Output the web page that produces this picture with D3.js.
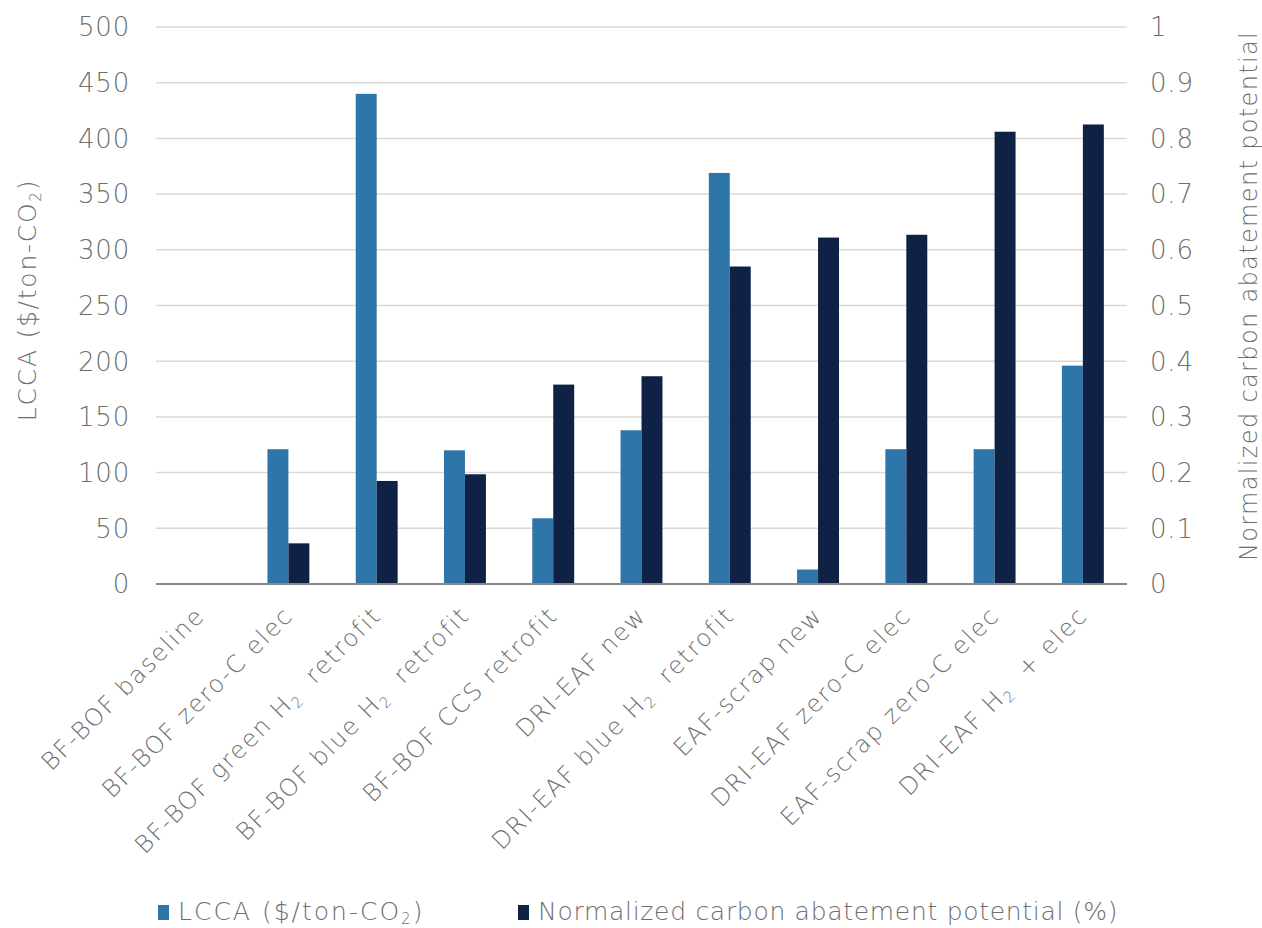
<!DOCTYPE html>
<html>
<head>
<meta charset="utf-8">
<script src="https://cdn.jsdelivr.net/npm/d3@7"></script>
<style>
  html, body { margin: 0; padding: 0; background: #fff; }
  svg { display: block; }
  text { font-family: "DejaVu Sans", "Open Sans", sans-serif; font-weight: 200; fill: #6e6e6e; }
</style>
</head>
<body>
<svg id="chart" width="1262" height="928"></svg>
<script>
// ---------- data ----------
const categories = [
  ["BF-BOF baseline"],
  ["BF-BOF zero-C elec"],
  ["BF-BOF green H", "2", "  retrofit"],
  ["BF-BOF blue H", "2", "  retrofit"],
  ["BF-BOF CCS retrofit"],
  ["DRI-EAF new"],
  ["DRI-EAF blue H", "2", "  retrofit"],
  ["EAF-scrap new"],
  ["DRI-EAF zero-C elec"],
  ["EAF-scrap zero-C elec"],
  ["DRI-EAF H", "2", "  + elec"]
];
const lccaValues = [0, 121, 440, 120, 59, 138, 369, 13, 121, 121, 196];
const abatementValues = [0, 0.073, 0.185, 0.197, 0.358, 0.373, 0.570, 0.622, 0.627, 0.812, 0.825];
const leftTicks = [0, 50, 100, 150, 200, 250, 300, 350, 400, 450, 500];
const rightTicks = [0, 0.1, 0.2, 0.3, 0.4, 0.5, 0.6, 0.7, 0.8, 0.9, 1];
const seriesNames = ["lcca", "abatement"];
const seriesColors = ["#2e75a9", "#0f2246"];

// ---------- layout ----------
const svg = d3.select("#chart");
const plot = { left: 156, right: 1127, top: 27, bottom: 584 };

const x = d3.scaleBand()
  .domain(d3.range(categories.length))
  .range([plot.left, plot.right])
  .paddingInner(0.525)
  .paddingOuter(0.2625);
const xInner = d3.scaleBand().domain(seriesNames).range([0, x.bandwidth()]);
const yLeft = d3.scaleLinear().domain([0, 500]).range([plot.bottom, plot.top]);
const yRight = d3.scaleLinear().domain([0, 1]).range([plot.bottom, plot.top]);

// gridlines
svg.append("g").selectAll("line").data(leftTicks.slice(1)).join("line")
  .attr("x1", plot.left).attr("x2", plot.right)
  .attr("y1", d => yLeft(d)).attr("y2", d => yLeft(d))
  .attr("stroke", "#d9d9d9").attr("stroke-width", 1.5);

// bars
const data = categories.map((c, i) => ({ i, lcca: lccaValues[i], abatement: abatementValues[i] }));
const g = svg.append("g");
g.selectAll("rect.lcca").data(data).join("rect").attr("class", "lcca")
  .attr("x", d => x(d.i) + xInner("lcca"))
  .attr("width", xInner.bandwidth())
  .attr("y", d => yLeft(d.lcca))
  .attr("height", d => yLeft(0) - yLeft(d.lcca))
  .attr("fill", seriesColors[0]);
g.selectAll("rect.ab").data(data).join("rect").attr("class", "ab")
  .attr("x", d => x(d.i) + xInner("abatement"))
  .attr("width", xInner.bandwidth())
  .attr("y", d => yRight(d.abatement))
  .attr("height", d => yRight(0) - yRight(d.abatement))
  .attr("fill", seriesColors[1]);

// baseline axis
svg.append("line")
  .attr("x1", plot.left).attr("x2", plot.right)
  .attr("y1", plot.bottom).attr("y2", plot.bottom)
  .attr("stroke", "#888").attr("stroke-width", 2);

// left axis
const leftAxis = d3.axisLeft(yLeft).tickValues(leftTicks).tickSize(0).tickPadding(26).tickFormat(d3.format("d"));
const la = svg.append("g").attr("transform", `translate(${plot.left},0)`).call(leftAxis);
la.select(".domain").remove();
la.selectAll("text").style("font-size", "26px").style("letter-spacing", "0.8px")
  .attr("fill", "#6e6e6e").attr("dy", "0.34em");

// right axis
const rightAxis = d3.axisRight(yRight).tickValues(rightTicks).tickSize(0).tickPadding(23)
  .tickFormat(d => d === 0 ? "0" : d === 1 ? "1" : d3.format(".1f")(d));
const ra = svg.append("g").attr("transform", `translate(${plot.right},0)`).call(rightAxis);
ra.select(".domain").remove();
ra.selectAll("text").style("font-size", "26px").style("letter-spacing", "0.8px")
  .attr("fill", "#6e6e6e").attr("dy", "0.34em");

// x labels
const xl = svg.append("g");
data.forEach((d, i) => {
  const cx = x(i) + x.bandwidth() / 2;
  const t = xl.append("text")
    .attr("transform", `translate(${cx + 6},${plot.bottom + 33}) rotate(-45)`)
    .attr("text-anchor", "end")
    .style("font-size", "24px").style("letter-spacing", "1.7px");
  const parts = categories[i];
  t.append("tspan").text(parts[0]);
  if (parts.length > 1) {
    t.append("tspan").attr("baseline-shift", "-5px").style("font-size", "15px").text(parts[1]);
    t.append("tspan").attr("baseline-shift", "0").text(parts[2]).style("white-space", "pre");
  }
});

// left title
const lt = svg.append("text")
  .attr("transform", `translate(36,300) rotate(-90)`)
  .attr("text-anchor", "middle").style("font-size", "25px").style("letter-spacing", "1.75px");
lt.append("tspan").text("LCCA ($/ton-CO");
lt.append("tspan").attr("baseline-shift", "-5px").style("font-size", "15px").text("2");
lt.append("tspan").attr("baseline-shift", "0").text(")");

// right title
svg.append("text")
  .attr("transform", `translate(1257,296) rotate(-90)`)
  .attr("text-anchor", "middle").style("font-size", "24px").style("letter-spacing", "1.35px")
  .text("Normalized carbon abatement potential");

// legend
const legend = [
  { color: seriesColors[0], x: 158, ls: 2, label: ["LCCA ($/ton-CO", "2", ")"] },
  { color: seriesColors[1], x: 518, ls: 0.7, label: ["Normalized carbon abatement potential (%)"] }
];
legend.forEach(l => {
  svg.append("rect").attr("x", l.x).attr("y", 905).attr("width", 11).attr("height", 15).attr("fill", l.color);
  const t = svg.append("text").attr("x", l.x + 20).attr("y", 920)
    .style("font-size", "25px").style("letter-spacing", l.ls + "px");
  t.append("tspan").text(l.label[0]);
  if (l.label.length > 1) {
    t.append("tspan").attr("baseline-shift", "-4px").style("font-size", "15px").text(l.label[1]);
    t.append("tspan").attr("baseline-shift", "0").text(l.label[2]);
  }
});
</script>
</body>
</html>
